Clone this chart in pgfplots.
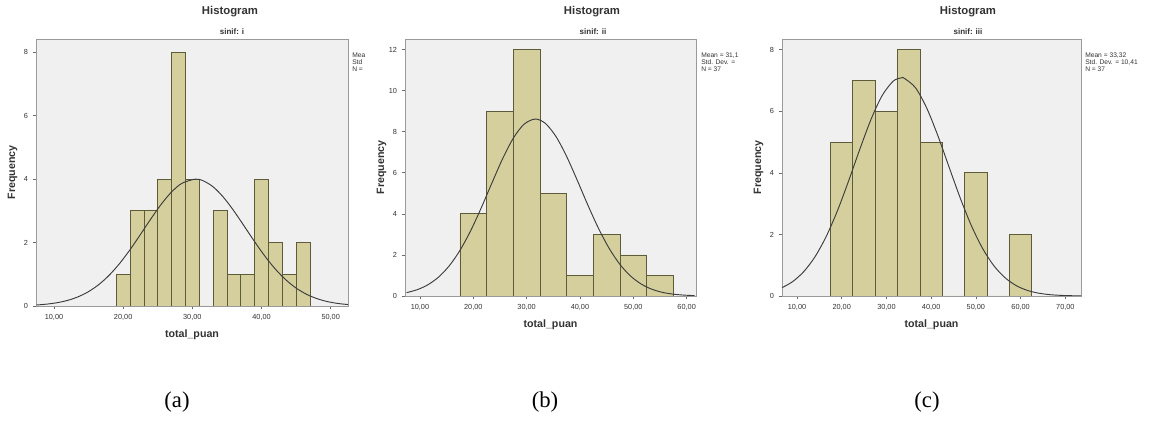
\documentclass[border=0pt]{standalone}
\usepackage{fontspec}
\setmainfont{Liberation Sans}
\newfontfamily\capfont{Liberation Serif}
\usepackage{pgfplots}
\pgfplotsset{compat=1.18}

\definecolor{bgc}{HTML}{F0F0F0}
\definecolor{barfill}{HTML}{D4CF9C}
\definecolor{baredge}{HTML}{5E5B3A}
\definecolor{framec}{HTML}{9A9A9A}
\definecolor{curvec}{HTML}{3C3C3C}
\definecolor{txtc}{HTML}{333333}

\pgfplotsset{
  spss/.style={
    anchor=south west, scale only axis,
    ymin=0,
    axis background/.style={fill=bgc},
    axis line style={draw=framec, line width=0.6pt},
    tick style={draw=framec!70!black, line width=0.5pt},
    tick align=outside, major tick length=2.5pt,
    xtick pos=left, ytick pos=left,
    /pgf/number format/assume math mode=true,
    tick label style={font=\fontsize{5.5}{6}\selectfont, text=txtc},
    xlabel={total\_puan}, ylabel={Frequency},
    label style={font=\bfseries\fontsize{8}{9}\selectfont, text=txtc},
    xlabel style={at={(axis description cs:0.5,0)}, anchor=center, yshift=-21.5pt},
    ylabel style={at={(axis description cs:0,0.5)}, anchor=center, yshift=17.5pt},
  },
  bars/.style={ybar interval, fill=barfill, draw=baredge, line width=0.6pt},
  ncurve/.style={smooth, no marks, draw=curvec, line width=0.7pt},
}

\begin{document}
\begin{tikzpicture}
\fill[white] (0,0) rectangle (870.75pt,-317.25pt);
\useasboundingbox (0,0) rectangle (870.75pt,-317.25pt);

% (a) sinif: i
\begin{axis}[spss,
  at={(27pt,-229.5pt)}, width=234pt, height=200.25pt,
  xmin=7.4, xmax=52.5, ymax=8.42,
  xtick={10,20,30,40,50}, xticklabels={{10,00},{20,00},{30,00},{40,00},{50,00}},
  ytick={0,2,4,6,8}, yticklabels={0,2,4,6,8},
]
\addplot[bars] coordinates {(19,1) (21,3) (23,3) (25,4) (27,8) (29,4) (31,0)
  (33,3) (35,1) (37,1) (39,4) (41,2) (43,1) (45,2) (47,0)};
\addplot[ncurve] coordinates {(7.5,0.032) (9,0.060) (10.5,0.106) (12,0.179)
  (13.5,0.291) (15,0.454) (16.5,0.679) (18,0.975) (19.5,1.344) (21,1.777)
  (22.5,2.256) (24,2.746) (25.5,3.209) (27,3.597) (28.5,3.870) (30.4,4.000)
  (31.5,3.956) (33,3.759) (34.5,3.428) (36,2.999) (37.5,2.518) (39,2.029)
  (40.5,1.568) (42,1.163) (43.5,0.828) (45,0.565) (46.5,0.370) (48,0.233)
  (49.5,0.140) (51,0.081) (52.5,0.045)};
\end{axis}

% (b) sinif: ii
\begin{axis}[spss,
  at={(303.75pt,-222pt)}, width=218.25pt, height=192.75pt,
  xmin=7.2, xmax=61.75, ymax=12.52,
  xtick={10,20,30,40,50,60}, xticklabels={{10,00},{20,00},{30,00},{40,00},{50,00},{60,00}},
  ytick={0,2,4,6,8,10,12}, yticklabels={0,2,4,6,8,10,12},
]
\addplot[bars] coordinates {(17.5,4) (22.5,9) (27.5,12) (32.5,5) (37.5,1)
  (42.5,3) (47.5,2) (52.5,1) (57.5,0)};
\addplot[ncurve] coordinates {(7.5,0.164) (9.5,0.308) (11.5,0.548) (13.5,0.922)
  (15.5,1.471) (17.5,2.221) (19.5,3.175) (21.5,4.298) (23.5,5.510) (25.5,6.688)
  (27.5,7.687) (29.5,8.365) (31.6,8.620) (33.5,8.411) (35.5,7.770) (37.5,6.798)
  (39.5,5.631) (41.5,4.417) (43.5,3.281) (45.5,2.307) (47.5,1.536) (49.5,0.969)
  (51.5,0.579) (53.5,0.327) (55.5,0.175) (57.5,0.089) (59.5,0.043) (61.5,0.019)};
\end{axis}

% (c) sinif: iii
\begin{axis}[spss,
  at={(586.5pt,-222pt)}, width=224.25pt, height=192.75pt,
  xmin=6.65, xmax=73.5, ymax=8.35,
  xtick={10,20,30,40,50,60,70}, xticklabels={{10,00},{20,00},{30,00},{40,00},{50,00},{60,00},{70,00}},
  ytick={0,2,4,6,8}, yticklabels={0,2,4,6,8},
]
\addplot[bars] coordinates {(17.5,5) (22.5,7) (27.5,6) (32.5,8) (37.5,5)
  (42.5,0) (47.5,4) (52.5,0) (57.5,2) (62.5,0)};
\addplot[ncurve] coordinates {(6.65,0.270) (9,0.464) (11.5,0.790) (14,1.268)
  (16.5,1.924) (19,2.754) (21.5,3.722) (24,4.749) (26.5,5.720) (29,6.503)
  (31.5,6.980) (33.32,7.087) (34,7.072) (36.5,6.765) (39,6.108) (41.5,5.207)
  (44,4.190) (46.5,3.183) (49,2.282) (51.5,1.545) (54,0.987) (56.5,0.596)
  (59,0.339) (61.5,0.182) (64,0.093) (66.5,0.044) (69,0.020) (71.5,0.009)
  (73.5,0.004)};
\end{axis}

% titles
\begin{scope}[every node/.style={text=txtc, inner sep=0pt}]
\node[font=\bfseries\fontsize{8.5}{9}\selectfont] at (172.5pt,-9pt) {Histogram};
\node[font=\bfseries\fontsize{8.5}{9}\selectfont] at (444pt,-9pt) {Histogram};
\node[font=\bfseries\fontsize{8.5}{9}\selectfont] at (726pt,-9pt) {Histogram};
\node[font=\bfseries\fontsize{6}{7}\selectfont] at (174pt,-24pt) {sinif: i};
\node[font=\bfseries\fontsize{6}{7}\selectfont] at (444.75pt,-24pt) {sinif: ii};
\node[font=\bfseries\fontsize{6}{7}\selectfont] at (726pt,-24pt) {sinif: iii};
% stats boxes
\node[anchor=north west, align=left, font=\fontsize{5}{5.3}\selectfont] at (264pt,-39.5pt) {Mea\\Std\\N =};
\node[anchor=north west, align=left, font=\fontsize{5}{5.3}\selectfont] at (525.75pt,-39.5pt) {Mean = 31,1\\Std. Dev. =\\N = 37};
\node[anchor=north west, align=left, font=\fontsize{5}{5.3}\selectfont] at (813.75pt,-39.5pt) {Mean = 33,32\\Std. Dev. = 10,41\\N = 37};
% captions
\node[font=\capfont\fontsize{17}{18}\selectfont, text=black] at (132.75pt,-301.5pt) {(a)};
\node[font=\capfont\fontsize{17}{18}\selectfont, text=black] at (408.75pt,-301.5pt) {(b)};
\node[font=\capfont\fontsize{17}{18}\selectfont, text=black] at (695.25pt,-301.5pt) {(c)};
\end{scope}
\end{tikzpicture}
\end{document}
